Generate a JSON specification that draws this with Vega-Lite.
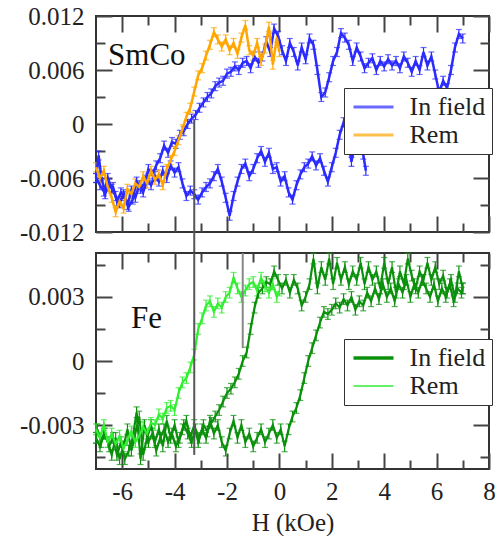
{
"$schema": "https://vega.github.io/schema/vega-lite/v6.json",
"padding": {"left": 18, "top": 3, "right": 0, "bottom": 0},
"background": "white",
"config": {
  "font": "Liberation Serif",
  "view": {"stroke": "#333", "strokeWidth": 2},
  "axis": {"domain": false, "grid": false, "labelFont": "Liberation Serif", "labelFontSize": 25, "labelColor": "#222", "tickColor": "#444", "tickWidth": 2, "titleFont": "Liberation Serif", "titleFontSize": 25, "titleFontWeight": "normal", "titleColor": "#222", "labelFlush": false, "labelOverlap": false},
  "legend": {"orient": "none", "symbolSize": 400, "symbolStrokeWidth": 3, "symbolOffset": 10.5, "labelFont": "Liberation Serif", "labelFontSize": 26, "labelColor": "#222", "labelOffset": 23, "strokeColor": "#333", "fillColor": "white", "padding": 6, "rowPadding": 2, "cornerRadius": 0}
},
"datasets": {
"smco": [
{"s":"In field","b":"d","x":7,"y":0.0095,"e":0.0005},{"s":"In field","b":"d","x":6.85,"y":0.0100,"e":0.0005},{"s":"In field","b":"d","x":6.7,"y":0.0085,"e":0.0005},{"s":"In field","b":"d","x":6.55,"y":0.0060,"e":0.0005},{"s":"In field","b":"d","x":6.4,"y":0.0040,"e":0.0005},{"s":"In field","b":"d","x":6.25,"y":0.0048,"e":0.0005},{"s":"In field","b":"d","x":6.1,"y":0.0035,"e":0.0005},{"s":"In field","b":"d","x":5.95,"y":0.0055,"e":0.0005},{"s":"In field","b":"d","x":5.8,"y":0.0075,"e":0.0005},{"s":"In field","b":"d","x":5.65,"y":0.0065,"e":0.0005},{"s":"In field","b":"d","x":5.5,"y":0.0080,"e":0.0005},{"s":"In field","b":"d","x":5.35,"y":0.0060,"e":0.0005},{"s":"In field","b":"d","x":5.2,"y":0.0070,"e":0.0005},{"s":"In field","b":"d","x":5.05,"y":0.0058,"e":0.0005},{"s":"In field","b":"d","x":4.9,"y":0.0068,"e":0.0005},{"s":"In field","b":"d","x":4.75,"y":0.0075,"e":0.0005},{"s":"In field","b":"d","x":4.6,"y":0.0062,"e":0.0005},{"s":"In field","b":"d","x":4.45,"y":0.0070,"e":0.0005},{"s":"In field","b":"d","x":4.3,"y":0.0065,"e":0.0005},{"s":"In field","b":"d","x":4.15,"y":0.0072,"e":0.0005},{"s":"In field","b":"d","x":4.0,"y":0.0064,"e":0.0005},{"s":"In field","b":"d","x":3.85,"y":0.0070,"e":0.0005},{"s":"In field","b":"d","x":3.7,"y":0.0060,"e":0.0005},{"s":"In field","b":"d","x":3.55,"y":0.0073,"e":0.0005},{"s":"In field","b":"d","x":3.4,"y":0.0068,"e":0.0005},{"s":"In field","b":"d","x":3.25,"y":0.0062,"e":0.0005},{"s":"In field","b":"d","x":3.1,"y":0.0075,"e":0.0005},{"s":"In field","b":"d","x":2.95,"y":0.0085,"e":0.0005},{"s":"In field","b":"d","x":2.8,"y":0.0070,"e":0.0005},{"s":"In field","b":"d","x":2.65,"y":0.0088,"e":0.0005},{"s":"In field","b":"d","x":2.5,"y":0.0096,"e":0.0005},{"s":"In field","b":"d","x":2.35,"y":0.0101,"e":0.0005},{"s":"In field","b":"d","x":2.2,"y":0.0080,"e":0.0005},{"s":"In field","b":"d","x":2.05,"y":0.0070,"e":0.0005},{"s":"In field","b":"d","x":1.9,"y":0.0052,"e":0.0005},{"s":"In field","b":"d","x":1.75,"y":0.0035,"e":0.0005},{"s":"In field","b":"d","x":1.6,"y":0.0030,"e":0.0005},{"s":"In field","b":"d","x":1.45,"y":0.0060,"e":0.0005},{"s":"In field","b":"d","x":1.3,"y":0.0088,"e":0.0005},{"s":"In field","b":"d","x":1.15,"y":0.0095,"e":0.0005},{"s":"In field","b":"d","x":1.0,"y":0.0072,"e":0.0005},{"s":"In field","b":"d","x":0.85,"y":0.0085,"e":0.0005},{"s":"In field","b":"d","x":0.7,"y":0.0065,"e":0.0005},{"s":"In field","b":"d","x":0.55,"y":0.0080,"e":0.0005},{"s":"In field","b":"d","x":0.4,"y":0.0090,"e":0.0005},{"s":"In field","b":"d","x":0.25,"y":0.0070,"e":0.0005},{"s":"In field","b":"d","x":0.1,"y":0.0082,"e":0.0005},{"s":"In field","b":"d","x":-0.05,"y":0.0098,"e":0.0005},{"s":"In field","b":"d","x":-0.2,"y":0.0106,"e":0.0005},{"s":"In field","b":"d","x":-0.35,"y":0.0080,"e":0.0005},{"s":"In field","b":"d","x":-0.5,"y":0.0092,"e":0.0005},{"s":"In field","b":"d","x":-0.65,"y":0.0075,"e":0.0005},{"s":"In field","b":"d","x":-0.8,"y":0.0068,"e":0.0005},{"s":"In field","b":"d","x":-0.95,"y":0.0075,"e":0.0005},{"s":"In field","b":"d","x":-1.1,"y":0.0062,"e":0.0005},{"s":"In field","b":"d","x":-1.25,"y":0.0070,"e":0.0005},{"s":"In field","b":"d","x":-1.4,"y":0.0068,"e":0.0005},{"s":"In field","b":"d","x":-1.55,"y":0.0060,"e":0.0005},{"s":"In field","b":"d","x":-1.7,"y":0.0064,"e":0.0005},{"s":"In field","b":"d","x":-1.85,"y":0.0058,"e":0.0005},{"s":"In field","b":"d","x":-2.0,"y":0.0056,"e":0.0005},{"s":"In field","b":"d","x":-2.15,"y":0.0048,"e":0.0005},{"s":"In field","b":"d","x":-2.3,"y":0.0046,"e":0.0005},{"s":"In field","b":"d","x":-2.45,"y":0.0042,"e":0.0005},{"s":"In field","b":"d","x":-2.6,"y":0.0034,"e":0.0005},{"s":"In field","b":"d","x":-2.75,"y":0.0030,"e":0.0005},{"s":"In field","b":"d","x":-2.9,"y":0.0024,"e":0.0005},{"s":"In field","b":"d","x":-3.05,"y":0.0018,"e":0.0005},{"s":"In field","b":"d","x":-3.2,"y":0.0010,"e":0.0005},{"s":"In field","b":"d","x":-3.35,"y":0.0006,"e":0.0005},{"s":"In field","b":"d","x":-3.5,"y":0.0000,"e":0.0005},{"s":"In field","b":"d","x":-3.65,"y":-0.0008,"e":0.0005},{"s":"In field","b":"d","x":-3.8,"y":-0.0012,"e":0.0005},{"s":"In field","b":"d","x":-3.95,"y":-0.0022,"e":0.0005},{"s":"In field","b":"d","x":-4.1,"y":-0.0020,"e":0.0005},{"s":"In field","b":"d","x":-4.25,"y":-0.0032,"e":0.0005},{"s":"In field","b":"d","x":-4.4,"y":-0.0024,"e":0.0005},{"s":"In field","b":"d","x":-4.55,"y":-0.0038,"e":0.0005},{"s":"In field","b":"d","x":-4.7,"y":-0.0046,"e":0.0005},{"s":"In field","b":"d","x":-4.85,"y":-0.0056,"e":0.0005},{"s":"In field","b":"d","x":-5.0,"y":-0.0050,"e":0.0005},{"s":"In field","b":"d","x":-5.15,"y":-0.0066,"e":0.0005},{"s":"In field","b":"d","x":-5.3,"y":-0.0072,"e":0.0005},{"s":"In field","b":"d","x":-5.45,"y":-0.0064,"e":0.0005},{"s":"In field","b":"d","x":-5.6,"y":-0.0084,"e":0.0005},{"s":"In field","b":"d","x":-5.75,"y":-0.0092,"e":0.0005},{"s":"In field","b":"d","x":-5.9,"y":-0.0080,"e":0.0005},{"s":"In field","b":"d","x":-6.05,"y":-0.0076,"e":0.0005},{"s":"In field","b":"d","x":-6.2,"y":-0.0086,"e":0.0005},{"s":"In field","b":"d","x":-6.35,"y":-0.0070,"e":0.0005},{"s":"In field","b":"d","x":-6.5,"y":-0.0066,"e":0.0005},{"s":"In field","b":"d","x":-6.65,"y":-0.0078,"e":0.0005},{"s":"In field","b":"d","x":-6.8,"y":-0.0058,"e":0.0005},{"s":"In field","b":"d","x":-6.9,"y":-0.0035,"e":0.0005},{"s":"In field","b":"d","x":-7.0,"y":-0.0060,"e":0.0005},
{"s":"In field","b":"a","x":-7.0,"y":-0.0060,"e":0.0005},{"s":"In field","b":"a","x":-6.85,"y":-0.0068,"e":0.0005},{"s":"In field","b":"a","x":-6.7,"y":-0.0075,"e":0.0005},{"s":"In field","b":"a","x":-6.55,"y":-0.0060,"e":0.0005},{"s":"In field","b":"a","x":-6.4,"y":-0.0072,"e":0.0005},{"s":"In field","b":"a","x":-6.25,"y":-0.0080,"e":0.0005},{"s":"In field","b":"a","x":-6.1,"y":-0.0088,"e":0.0005},{"s":"In field","b":"a","x":-5.95,"y":-0.0078,"e":0.0005},{"s":"In field","b":"a","x":-5.8,"y":-0.0090,"e":0.0005},{"s":"In field","b":"a","x":-5.65,"y":-0.0074,"e":0.0005},{"s":"In field","b":"a","x":-5.5,"y":-0.0082,"e":0.0005},{"s":"In field","b":"a","x":-5.35,"y":-0.0068,"e":0.0005},{"s":"In field","b":"a","x":-5.2,"y":-0.0076,"e":0.0005},{"s":"In field","b":"a","x":-5.05,"y":-0.0062,"e":0.0005},{"s":"In field","b":"a","x":-4.9,"y":-0.0068,"e":0.0005},{"s":"In field","b":"a","x":-4.75,"y":-0.0058,"e":0.0005},{"s":"In field","b":"a","x":-4.6,"y":-0.0064,"e":0.0005},{"s":"In field","b":"a","x":-4.45,"y":-0.0052,"e":0.0005},{"s":"In field","b":"a","x":-4.3,"y":-0.0060,"e":0.0005},{"s":"In field","b":"a","x":-4.15,"y":-0.0046,"e":0.0005},{"s":"In field","b":"a","x":-4.0,"y":-0.0054,"e":0.0005},{"s":"In field","b":"a","x":-3.85,"y":-0.0048,"e":0.0005},{"s":"In field","b":"a","x":-3.7,"y":-0.0066,"e":0.0005},{"s":"In field","b":"a","x":-3.55,"y":-0.0080,"e":0.0005},{"s":"In field","b":"a","x":-3.4,"y":-0.0074,"e":0.0005},{"s":"In field","b":"a","x":-3.25,"y":-0.0078,"e":0.0005},{"s":"In field","b":"a","x":-3.1,"y":-0.0084,"e":0.0005},{"s":"In field","b":"a","x":-2.95,"y":-0.0076,"e":0.0005},{"s":"In field","b":"a","x":-2.8,"y":-0.0070,"e":0.0005},{"s":"In field","b":"a","x":-2.65,"y":-0.0066,"e":0.0005},{"s":"In field","b":"a","x":-2.5,"y":-0.0058,"e":0.0005},{"s":"In field","b":"a","x":-2.35,"y":-0.0050,"e":0.0005},{"s":"In field","b":"a","x":-2.2,"y":-0.0064,"e":0.0005},{"s":"In field","b":"a","x":-2.05,"y":-0.0082,"e":0.0005},{"s":"In field","b":"a","x":-1.9,"y":-0.0102,"e":0.0005},{"s":"In field","b":"a","x":-1.75,"y":-0.0080,"e":0.0005},{"s":"In field","b":"a","x":-1.6,"y":-0.0064,"e":0.0005},{"s":"In field","b":"a","x":-1.45,"y":-0.0050,"e":0.0005},{"s":"In field","b":"a","x":-1.3,"y":-0.0044,"e":0.0005},{"s":"In field","b":"a","x":-1.15,"y":-0.0058,"e":0.0005},{"s":"In field","b":"a","x":-1.0,"y":-0.0050,"e":0.0005},{"s":"In field","b":"a","x":-0.85,"y":-0.0038,"e":0.0005},{"s":"In field","b":"a","x":-0.7,"y":-0.0030,"e":0.0005},{"s":"In field","b":"a","x":-0.55,"y":-0.0042,"e":0.0005},{"s":"In field","b":"a","x":-0.4,"y":-0.0032,"e":0.0005},{"s":"In field","b":"a","x":-0.25,"y":-0.0050,"e":0.0005},{"s":"In field","b":"a","x":-0.1,"y":-0.0048,"e":0.0005},{"s":"In field","b":"a","x":0.05,"y":-0.0064,"e":0.0005},{"s":"In field","b":"a","x":0.2,"y":-0.0058,"e":0.0005},{"s":"In field","b":"a","x":0.35,"y":-0.0076,"e":0.0005},{"s":"In field","b":"a","x":0.5,"y":-0.0084,"e":0.0005},{"s":"In field","b":"a","x":0.65,"y":-0.0068,"e":0.0005},{"s":"In field","b":"a","x":0.8,"y":-0.0056,"e":0.0005},{"s":"In field","b":"a","x":0.95,"y":-0.0048,"e":0.0005},{"s":"In field","b":"a","x":1.1,"y":-0.0044,"e":0.0005},{"s":"In field","b":"a","x":1.25,"y":-0.0036,"e":0.0005},{"s":"In field","b":"a","x":1.4,"y":-0.0046,"e":0.0005},{"s":"In field","b":"a","x":1.55,"y":-0.0038,"e":0.0005},{"s":"In field","b":"a","x":1.7,"y":-0.0052,"e":0.0005},{"s":"In field","b":"a","x":1.85,"y":-0.0064,"e":0.0005},{"s":"In field","b":"a","x":2.0,"y":-0.0048,"e":0.0005},{"s":"In field","b":"a","x":2.15,"y":-0.0032,"e":0.0005},{"s":"In field","b":"a","x":2.3,"y":-0.0012,"e":0.0005},{"s":"In field","b":"a","x":2.45,"y":0.0002,"e":0.0005},{"s":"In field","b":"a","x":2.6,"y":-0.0014,"e":0.0005},{"s":"In field","b":"a","x":2.75,"y":-0.0042,"e":0.0005},{"s":"In field","b":"a","x":2.9,"y":-0.0020,"e":0.0005},{"s":"In field","b":"a","x":3.05,"y":-0.0028,"e":0.0005},{"s":"In field","b":"a","x":3.2,"y":-0.0034,"e":0.0005},{"s":"In field","b":"a","x":3.3,"y":-0.0052,"e":0.0005},
{"s":"Rem","b":"r","x":-7.0,"y":-0.0048,"e":0.0005},{"s":"Rem","b":"r","x":-6.85,"y":-0.0060,"e":0.0005},{"s":"Rem","b":"r","x":-6.7,"y":-0.0052,"e":0.0005},{"s":"Rem","b":"r","x":-6.55,"y":-0.0070,"e":0.0005},{"s":"Rem","b":"r","x":-6.4,"y":-0.0082,"e":0.0005},{"s":"Rem","b":"r","x":-6.25,"y":-0.0098,"e":0.0005},{"s":"Rem","b":"r","x":-6.1,"y":-0.0086,"e":0.0005},{"s":"Rem","b":"r","x":-5.95,"y":-0.0094,"e":0.0005},{"s":"Rem","b":"r","x":-5.8,"y":-0.0072,"e":0.0005},{"s":"Rem","b":"r","x":-5.65,"y":-0.0078,"e":0.0005},{"s":"Rem","b":"r","x":-5.5,"y":-0.0066,"e":0.0005},{"s":"Rem","b":"r","x":-5.35,"y":-0.0070,"e":0.0005},{"s":"Rem","b":"r","x":-5.2,"y":-0.0058,"e":0.0005},{"s":"Rem","b":"r","x":-5.05,"y":-0.0066,"e":0.0005},{"s":"Rem","b":"r","x":-4.9,"y":-0.0052,"e":0.0005},{"s":"Rem","b":"r","x":-4.75,"y":-0.0062,"e":0.0005},{"s":"Rem","b":"r","x":-4.6,"y":-0.0056,"e":0.0005},{"s":"Rem","b":"r","x":-4.45,"y":-0.0068,"e":0.0005},{"s":"Rem","b":"r","x":-4.3,"y":-0.0050,"e":0.0005},{"s":"Rem","b":"r","x":-4.15,"y":-0.0040,"e":0.0005},{"s":"Rem","b":"r","x":-4.0,"y":-0.0030,"e":0.0005},{"s":"Rem","b":"r","x":-3.85,"y":-0.0018,"e":0.0005},{"s":"Rem","b":"r","x":-3.7,"y":-0.0006,"e":0.0005},{"s":"Rem","b":"r","x":-3.55,"y":0.0008,"e":0.0005},{"s":"Rem","b":"r","x":-3.4,"y":0.0018,"e":0.0005},{"s":"Rem","b":"r","x":-3.25,"y":0.0036,"e":0.0005},{"s":"Rem","b":"r","x":-3.1,"y":0.0054,"e":0.0005},{"s":"Rem","b":"r","x":-2.95,"y":0.0062,"e":0.0005},{"s":"Rem","b":"r","x":-2.8,"y":0.0076,"e":0.0005},{"s":"Rem","b":"r","x":-2.65,"y":0.0088,"e":0.0005},{"s":"Rem","b":"r","x":-2.5,"y":0.0102,"e":0.0005},{"s":"Rem","b":"r","x":-2.35,"y":0.0094,"e":0.0005},{"s":"Rem","b":"r","x":-2.2,"y":0.0086,"e":0.0005},{"s":"Rem","b":"r","x":-2.05,"y":0.0094,"e":0.0005},{"s":"Rem","b":"r","x":-1.9,"y":0.0082,"e":0.0005},{"s":"Rem","b":"r","x":-1.75,"y":0.0090,"e":0.0005},{"s":"Rem","b":"r","x":-1.6,"y":0.0078,"e":0.0005},{"s":"Rem","b":"r","x":-1.45,"y":0.0096,"e":0.0005},{"s":"Rem","b":"r","x":-1.3,"y":0.0110,"e":0.0005},{"s":"Rem","b":"r","x":-1.15,"y":0.0082,"e":0.0005},{"s":"Rem","b":"r","x":-1.0,"y":0.0076,"e":0.0005},{"s":"Rem","b":"r","x":-0.85,"y":0.0090,"e":0.0005},{"s":"Rem","b":"r","x":-0.7,"y":0.0070,"e":0.0005},{"s":"Rem","b":"r","x":-0.55,"y":0.0084,"e":0.0005},{"s":"Rem","b":"r","x":-0.4,"y":0.0108,"e":0.0005},{"s":"Rem","b":"r","x":-0.25,"y":0.0066,"e":0.0005},{"s":"Rem","b":"r","x":-0.1,"y":0.0096,"e":0.0005},{"s":"Rem","b":"r","x":0.0,"y":0.0080,"e":0.0005}
],
"fe": [
{"s":"In field","b":"d","x":7,"y":0.0034,"e":0.00025},{"s":"In field","b":"d","x":6.85,"y":0.0042,"e":0.00025},{"s":"In field","b":"d","x":6.7,"y":0.0030,"e":0.00025},{"s":"In field","b":"d","x":6.55,"y":0.0038,"e":0.00025},{"s":"In field","b":"d","x":6.4,"y":0.0032,"e":0.00025},{"s":"In field","b":"d","x":6.25,"y":0.0040,"e":0.00025},{"s":"In field","b":"d","x":6.1,"y":0.0036,"e":0.00025},{"s":"In field","b":"d","x":5.95,"y":0.0044,"e":0.00025},{"s":"In field","b":"d","x":5.8,"y":0.0038,"e":0.00025},{"s":"In field","b":"d","x":5.65,"y":0.0046,"e":0.00025},{"s":"In field","b":"d","x":5.5,"y":0.0038,"e":0.00025},{"s":"In field","b":"d","x":5.35,"y":0.0042,"e":0.00025},{"s":"In field","b":"d","x":5.2,"y":0.0034,"e":0.00025},{"s":"In field","b":"d","x":5.05,"y":0.0040,"e":0.00025},{"s":"In field","b":"d","x":4.9,"y":0.0048,"e":0.00025},{"s":"In field","b":"d","x":4.75,"y":0.0036,"e":0.00025},{"s":"In field","b":"d","x":4.6,"y":0.0042,"e":0.00025},{"s":"In field","b":"d","x":4.45,"y":0.0032,"e":0.00025},{"s":"In field","b":"d","x":4.3,"y":0.0044,"e":0.00025},{"s":"In field","b":"d","x":4.15,"y":0.0036,"e":0.00025},{"s":"In field","b":"d","x":4.0,"y":0.0046,"e":0.00025},{"s":"In field","b":"d","x":3.85,"y":0.0034,"e":0.00025},{"s":"In field","b":"d","x":3.7,"y":0.0042,"e":0.00025},{"s":"In field","b":"d","x":3.55,"y":0.0038,"e":0.00025},{"s":"In field","b":"d","x":3.4,"y":0.0044,"e":0.00025},{"s":"In field","b":"d","x":3.25,"y":0.0036,"e":0.00025},{"s":"In field","b":"d","x":3.1,"y":0.0046,"e":0.00025},{"s":"In field","b":"d","x":2.95,"y":0.0038,"e":0.00025},{"s":"In field","b":"d","x":2.8,"y":0.0042,"e":0.00025},{"s":"In field","b":"d","x":2.65,"y":0.0036,"e":0.00025},{"s":"In field","b":"d","x":2.5,"y":0.0044,"e":0.00025},{"s":"In field","b":"d","x":2.35,"y":0.0038,"e":0.00025},{"s":"In field","b":"d","x":2.2,"y":0.0046,"e":0.00025},{"s":"In field","b":"d","x":2.05,"y":0.0036,"e":0.00025},{"s":"In field","b":"d","x":1.9,"y":0.0048,"e":0.00025},{"s":"In field","b":"d","x":1.75,"y":0.0038,"e":0.00025},{"s":"In field","b":"d","x":1.6,"y":0.0044,"e":0.00025},{"s":"In field","b":"d","x":1.45,"y":0.0034,"e":0.00025},{"s":"In field","b":"d","x":1.3,"y":0.0048,"e":0.00025},{"s":"In field","b":"d","x":1.15,"y":0.0036,"e":0.00025},{"s":"In field","b":"d","x":1.0,"y":0.0030,"e":0.00025},{"s":"In field","b":"d","x":0.85,"y":0.0026,"e":0.00025},{"s":"In field","b":"d","x":0.7,"y":0.0034,"e":0.00025},{"s":"In field","b":"d","x":0.55,"y":0.0038,"e":0.00025},{"s":"In field","b":"d","x":0.4,"y":0.0032,"e":0.00025},{"s":"In field","b":"d","x":0.25,"y":0.0038,"e":0.00025},{"s":"In field","b":"d","x":0.1,"y":0.0034,"e":0.00025},{"s":"In field","b":"d","x":-0.05,"y":0.0038,"e":0.00025},{"s":"In field","b":"d","x":-0.2,"y":0.0042,"e":0.00025},{"s":"In field","b":"d","x":-0.35,"y":0.0036,"e":0.00025},{"s":"In field","b":"d","x":-0.5,"y":0.0037,"e":0.00025},{"s":"In field","b":"d","x":-0.65,"y":0.0034,"e":0.00025},{"s":"In field","b":"d","x":-0.8,"y":0.0032,"e":0.00025},{"s":"In field","b":"d","x":-0.95,"y":0.0025,"e":0.00025},{"s":"In field","b":"d","x":-1.1,"y":0.0015,"e":0.00025},{"s":"In field","b":"d","x":-1.25,"y":0.0004,"e":0.00025},{"s":"In field","b":"d","x":-1.4,"y":0.0000,"e":0.00025},{"s":"In field","b":"d","x":-1.55,"y":-0.0006,"e":0.00025},{"s":"In field","b":"d","x":-1.7,"y":-0.0010,"e":0.00025},{"s":"In field","b":"d","x":-1.85,"y":-0.0013,"e":0.00025},{"s":"In field","b":"d","x":-2.0,"y":-0.0015,"e":0.00025},{"s":"In field","b":"d","x":-2.15,"y":-0.0019,"e":0.00025},{"s":"In field","b":"d","x":-2.3,"y":-0.0023,"e":0.00025},{"s":"In field","b":"d","x":-2.45,"y":-0.0026,"e":0.00025},{"s":"In field","b":"d","x":-2.6,"y":-0.0029,"e":0.00025},{"s":"In field","b":"d","x":-2.75,"y":-0.0033,"e":0.00025},{"s":"In field","b":"d","x":-2.9,"y":-0.0030,"e":0.00025},{"s":"In field","b":"d","x":-3.05,"y":-0.0036,"e":0.00025},{"s":"In field","b":"d","x":-3.2,"y":-0.0032,"e":0.00025},{"s":"In field","b":"d","x":-3.35,"y":-0.0038,"e":0.00025},{"s":"In field","b":"d","x":-3.5,"y":-0.0034,"e":0.00025},{"s":"In field","b":"d","x":-3.65,"y":-0.0030,"e":0.00025},{"s":"In field","b":"d","x":-3.8,"y":-0.0036,"e":0.00025},{"s":"In field","b":"d","x":-3.95,"y":-0.0040,"e":0.00025},{"s":"In field","b":"d","x":-4.1,"y":-0.0034,"e":0.00025},{"s":"In field","b":"d","x":-4.25,"y":-0.0038,"e":0.00025},{"s":"In field","b":"d","x":-4.4,"y":-0.0032,"e":0.00025},{"s":"In field","b":"d","x":-4.55,"y":-0.0036,"e":0.00025},{"s":"In field","b":"d","x":-4.7,"y":-0.0042,"e":0.00025},{"s":"In field","b":"d","x":-4.85,"y":-0.0034,"e":0.00025},{"s":"In field","b":"d","x":-5.0,"y":-0.0038,"e":0.00025},{"s":"In field","b":"d","x":-5.15,"y":-0.0030,"e":0.00025},{"s":"In field","b":"d","x":-5.3,"y":-0.0046,"e":0.00025},{"s":"In field","b":"d","x":-5.45,"y":-0.0024,"e":0.00025},{"s":"In field","b":"d","x":-5.6,"y":-0.0036,"e":0.00025},{"s":"In field","b":"d","x":-5.75,"y":-0.0042,"e":0.00025},{"s":"In field","b":"d","x":-5.9,"y":-0.0046,"e":0.00025},{"s":"In field","b":"d","x":-6.05,"y":-0.0038,"e":0.00025},{"s":"In field","b":"d","x":-6.2,"y":-0.0044,"e":0.00025},{"s":"In field","b":"d","x":-6.35,"y":-0.0036,"e":0.00025},{"s":"In field","b":"d","x":-6.5,"y":-0.0040,"e":0.00025},{"s":"In field","b":"d","x":-6.65,"y":-0.0034,"e":0.00025},{"s":"In field","b":"d","x":-6.8,"y":-0.0038,"e":0.00025},{"s":"In field","b":"d","x":-6.95,"y":-0.0032,"e":0.00025},{"s":"In field","b":"d","x":-7.0,"y":-0.0036,"e":0.00025},
{"s":"In field","b":"a","x":-7.0,"y":-0.0036,"e":0.00025},{"s":"In field","b":"a","x":-6.85,"y":-0.0040,"e":0.00025},{"s":"In field","b":"a","x":-6.7,"y":-0.0034,"e":0.00025},{"s":"In field","b":"a","x":-6.55,"y":-0.0038,"e":0.00025},{"s":"In field","b":"a","x":-6.4,"y":-0.0044,"e":0.00025},{"s":"In field","b":"a","x":-6.25,"y":-0.0036,"e":0.00025},{"s":"In field","b":"a","x":-6.1,"y":-0.0046,"e":0.00025},{"s":"In field","b":"a","x":-5.95,"y":-0.0040,"e":0.00025},{"s":"In field","b":"a","x":-5.8,"y":-0.0032,"e":0.00025},{"s":"In field","b":"a","x":-5.65,"y":-0.0042,"e":0.00025},{"s":"In field","b":"a","x":-5.5,"y":-0.0034,"e":0.00025},{"s":"In field","b":"a","x":-5.35,"y":-0.0026,"e":0.00025},{"s":"In field","b":"a","x":-5.2,"y":-0.0044,"e":0.00025},{"s":"In field","b":"a","x":-5.05,"y":-0.0036,"e":0.00025},{"s":"In field","b":"a","x":-4.9,"y":-0.0030,"e":0.00025},{"s":"In field","b":"a","x":-4.75,"y":-0.0038,"e":0.00025},{"s":"In field","b":"a","x":-4.6,"y":-0.0032,"e":0.00025},{"s":"In field","b":"a","x":-4.45,"y":-0.0040,"e":0.00025},{"s":"In field","b":"a","x":-4.3,"y":-0.0028,"e":0.00025},{"s":"In field","b":"a","x":-4.15,"y":-0.0036,"e":0.00025},{"s":"In field","b":"a","x":-4.0,"y":-0.0030,"e":0.00025},{"s":"In field","b":"a","x":-3.85,"y":-0.0038,"e":0.00025},{"s":"In field","b":"a","x":-3.7,"y":-0.0032,"e":0.00025},{"s":"In field","b":"a","x":-3.55,"y":-0.0028,"e":0.00025},{"s":"In field","b":"a","x":-3.4,"y":-0.0036,"e":0.00025},{"s":"In field","b":"a","x":-3.25,"y":-0.0030,"e":0.00025},{"s":"In field","b":"a","x":-3.1,"y":-0.0038,"e":0.00025},{"s":"In field","b":"a","x":-2.95,"y":-0.0032,"e":0.00025},{"s":"In field","b":"a","x":-2.8,"y":-0.0036,"e":0.00025},{"s":"In field","b":"a","x":-2.65,"y":-0.0028,"e":0.00025},{"s":"In field","b":"a","x":-2.5,"y":-0.0034,"e":0.00025},{"s":"In field","b":"a","x":-2.35,"y":-0.0030,"e":0.00025},{"s":"In field","b":"a","x":-2.2,"y":-0.0038,"e":0.00025},{"s":"In field","b":"a","x":-2.05,"y":-0.0042,"e":0.00025},{"s":"In field","b":"a","x":-1.9,"y":-0.0034,"e":0.00025},{"s":"In field","b":"a","x":-1.75,"y":-0.0028,"e":0.00025},{"s":"In field","b":"a","x":-1.6,"y":-0.0036,"e":0.00025},{"s":"In field","b":"a","x":-1.45,"y":-0.0030,"e":0.00025},{"s":"In field","b":"a","x":-1.3,"y":-0.0038,"e":0.00025},{"s":"In field","b":"a","x":-1.15,"y":-0.0034,"e":0.00025},{"s":"In field","b":"a","x":-1.0,"y":-0.0040,"e":0.00025},{"s":"In field","b":"a","x":-0.85,"y":-0.0036,"e":0.00025},{"s":"In field","b":"a","x":-0.7,"y":-0.0032,"e":0.00025},{"s":"In field","b":"a","x":-0.55,"y":-0.0038,"e":0.00025},{"s":"In field","b":"a","x":-0.4,"y":-0.0034,"e":0.00025},{"s":"In field","b":"a","x":-0.25,"y":-0.0030,"e":0.00025},{"s":"In field","b":"a","x":-0.1,"y":-0.0036,"e":0.00025},{"s":"In field","b":"a","x":0.05,"y":-0.0032,"e":0.00025},{"s":"In field","b":"a","x":0.2,"y":-0.0040,"e":0.00025},{"s":"In field","b":"a","x":0.35,"y":-0.0032,"e":0.00025},{"s":"In field","b":"a","x":0.5,"y":-0.0026,"e":0.00025},{"s":"In field","b":"a","x":0.65,"y":-0.0022,"e":0.00025},{"s":"In field","b":"a","x":0.8,"y":-0.0016,"e":0.00025},{"s":"In field","b":"a","x":0.95,"y":-0.0008,"e":0.00025},{"s":"In field","b":"a","x":1.1,"y":0.0000,"e":0.00025},{"s":"In field","b":"a","x":1.25,"y":0.0006,"e":0.00025},{"s":"In field","b":"a","x":1.4,"y":0.0012,"e":0.00025},{"s":"In field","b":"a","x":1.55,"y":0.0018,"e":0.00025},{"s":"In field","b":"a","x":1.7,"y":0.0023,"e":0.00025},{"s":"In field","b":"a","x":1.85,"y":0.0022,"e":0.00025},{"s":"In field","b":"a","x":2.0,"y":0.0024,"e":0.00025},{"s":"In field","b":"a","x":2.15,"y":0.0027,"e":0.00025},{"s":"In field","b":"a","x":2.3,"y":0.0025,"e":0.00025},{"s":"In field","b":"a","x":2.45,"y":0.0029,"e":0.00025},{"s":"In field","b":"a","x":2.6,"y":0.0026,"e":0.00025},{"s":"In field","b":"a","x":2.75,"y":0.0030,"e":0.00025},{"s":"In field","b":"a","x":2.9,"y":0.0024,"e":0.00025},{"s":"In field","b":"a","x":3.05,"y":0.0028,"e":0.00025},{"s":"In field","b":"a","x":3.2,"y":0.0026,"e":0.00025},{"s":"In field","b":"a","x":3.35,"y":0.0032,"e":0.00025},{"s":"In field","b":"a","x":3.5,"y":0.0028,"e":0.00025},{"s":"In field","b":"a","x":3.65,"y":0.0034,"e":0.00025},{"s":"In field","b":"a","x":3.8,"y":0.0029,"e":0.00025},{"s":"In field","b":"a","x":3.95,"y":0.0036,"e":0.00025},{"s":"In field","b":"a","x":4.1,"y":0.0030,"e":0.00025},{"s":"In field","b":"a","x":4.25,"y":0.0034,"e":0.00025},{"s":"In field","b":"a","x":4.4,"y":0.0028,"e":0.00025},{"s":"In field","b":"a","x":4.55,"y":0.0036,"e":0.00025},{"s":"In field","b":"a","x":4.7,"y":0.0032,"e":0.00025},{"s":"In field","b":"a","x":4.85,"y":0.0038,"e":0.00025},{"s":"In field","b":"a","x":5.0,"y":0.0030,"e":0.00025},{"s":"In field","b":"a","x":5.15,"y":0.0036,"e":0.00025},{"s":"In field","b":"a","x":5.3,"y":0.0032,"e":0.00025},{"s":"In field","b":"a","x":5.45,"y":0.0038,"e":0.00025},{"s":"In field","b":"a","x":5.6,"y":0.0034,"e":0.00025},{"s":"In field","b":"a","x":5.75,"y":0.0030,"e":0.00025},{"s":"In field","b":"a","x":5.9,"y":0.0036,"e":0.00025},{"s":"In field","b":"a","x":6.05,"y":0.0028,"e":0.00025},{"s":"In field","b":"a","x":6.2,"y":0.0034,"e":0.00025},{"s":"In field","b":"a","x":6.35,"y":0.0030,"e":0.00025},{"s":"In field","b":"a","x":6.5,"y":0.0036,"e":0.00025},{"s":"In field","b":"a","x":6.65,"y":0.0028,"e":0.00025},{"s":"In field","b":"a","x":6.8,"y":0.0034,"e":0.00025},{"s":"In field","b":"a","x":6.95,"y":0.0032,"e":0.00025},{"s":"In field","b":"a","x":7.0,"y":0.0034,"e":0.00025},
{"s":"Rem","b":"r","x":-7.0,"y":-0.0032,"e":0.00025},{"s":"Rem","b":"r","x":-6.85,"y":-0.0036,"e":0.00025},{"s":"Rem","b":"r","x":-6.7,"y":-0.0030,"e":0.00025},{"s":"Rem","b":"r","x":-6.55,"y":-0.0038,"e":0.00025},{"s":"Rem","b":"r","x":-6.4,"y":-0.0034,"e":0.00025},{"s":"Rem","b":"r","x":-6.25,"y":-0.0039,"e":0.00025},{"s":"Rem","b":"r","x":-6.1,"y":-0.0035,"e":0.00025},{"s":"Rem","b":"r","x":-5.95,"y":-0.0041,"e":0.00025},{"s":"Rem","b":"r","x":-5.8,"y":-0.0037,"e":0.00025},{"s":"Rem","b":"r","x":-5.65,"y":-0.0033,"e":0.00025},{"s":"Rem","b":"r","x":-5.5,"y":-0.0038,"e":0.00025},{"s":"Rem","b":"r","x":-5.35,"y":-0.0035,"e":0.00025},{"s":"Rem","b":"r","x":-5.2,"y":-0.0031,"e":0.00025},{"s":"Rem","b":"r","x":-5.05,"y":-0.0034,"e":0.00025},{"s":"Rem","b":"r","x":-4.9,"y":-0.0029,"e":0.00025},{"s":"Rem","b":"r","x":-4.75,"y":-0.0030,"e":0.00025},{"s":"Rem","b":"r","x":-4.6,"y":-0.0025,"e":0.00025},{"s":"Rem","b":"r","x":-4.45,"y":-0.0027,"e":0.00025},{"s":"Rem","b":"r","x":-4.3,"y":-0.0022,"e":0.00025},{"s":"Rem","b":"r","x":-4.15,"y":-0.0021,"e":0.00025},{"s":"Rem","b":"r","x":-4.0,"y":-0.0023,"e":0.00025},{"s":"Rem","b":"r","x":-3.85,"y":-0.0015,"e":0.00025},{"s":"Rem","b":"r","x":-3.7,"y":-0.0010,"e":0.00025},{"s":"Rem","b":"r","x":-3.55,"y":-0.0008,"e":0.00025},{"s":"Rem","b":"r","x":-3.4,"y":-0.0003,"e":0.00025},{"s":"Rem","b":"r","x":-3.25,"y":0.0003,"e":0.00025},{"s":"Rem","b":"r","x":-3.1,"y":0.0015,"e":0.00025},{"s":"Rem","b":"r","x":-2.95,"y":0.0020,"e":0.00025},{"s":"Rem","b":"r","x":-2.8,"y":0.0026,"e":0.00025},{"s":"Rem","b":"r","x":-2.65,"y":0.0028,"e":0.00025},{"s":"Rem","b":"r","x":-2.5,"y":0.0023,"e":0.00025},{"s":"Rem","b":"r","x":-2.35,"y":0.0027,"e":0.00025},{"s":"Rem","b":"r","x":-2.2,"y":0.0025,"e":0.00025},{"s":"Rem","b":"r","x":-2.05,"y":0.0030,"e":0.00025},{"s":"Rem","b":"r","x":-1.9,"y":0.0032,"e":0.00025},{"s":"Rem","b":"r","x":-1.75,"y":0.0039,"e":0.00025},{"s":"Rem","b":"r","x":-1.6,"y":0.0034,"e":0.00025},{"s":"Rem","b":"r","x":-1.45,"y":0.0030,"e":0.00025},{"s":"Rem","b":"r","x":-1.3,"y":0.0033,"e":0.00025},{"s":"Rem","b":"r","x":-1.15,"y":0.0036,"e":0.00025},{"s":"Rem","b":"r","x":-1.0,"y":0.0037,"e":0.00025},{"s":"Rem","b":"r","x":-0.85,"y":0.0033,"e":0.00025},{"s":"Rem","b":"r","x":-0.7,"y":0.0039,"e":0.00025},{"s":"Rem","b":"r","x":-0.55,"y":0.0035,"e":0.00025},{"s":"Rem","b":"r","x":-0.4,"y":0.0032,"e":0.00025},{"s":"Rem","b":"r","x":-0.25,"y":0.0036,"e":0.00025},{"s":"Rem","b":"r","x":-0.1,"y":0.0030,"e":0.00025},{"s":"Rem","b":"r","x":0.0,"y":0.0033,"e":0.00025}
],
"pt": [{"x": 0, "y": 0}]
},
"spacing": 21,
"bounds": "flush",
"resolve": {"scale": {"color": "independent"}, "legend": {"color": "independent"}},
"vconcat": [
{
 "width": 393, "height": 216,
 "resolve": {"axis": {"x": "independent", "y": "independent"}},
 "layer": [
  {"data": {"name": "smco"}, "mark": {"type": "errorbar", "ticks": true, "size": 6, "thickness": 1.2},
   "encoding": {"x": {"field": "x", "type": "quantitative", "scale": {"domain": [-7, 8], "nice": false, "zero": false}, "axis": null},
    "y": {"field": "y", "type": "quantitative", "scale": {"domain": [-0.012, 0.012], "nice": false, "zero": false}, "axis": null},
    "yError": {"field": "e"},
    "color": {"field": "s", "type": "nominal", "scale": {"domain": ["In field", "Rem"], "range": ["#2b2bff", "#ffa600"]}}}},
  {"data": {"name": "smco"}, "mark": {"type": "line", "strokeWidth": 2.5},
   "encoding": {"x": {"field": "x", "type": "quantitative", "scale": {"domain": [-7, 8], "nice": false, "zero": false}, "axis": null},
    "y": {"field": "y", "type": "quantitative", "scale": {"domain": [-0.012, 0.012], "nice": false, "zero": false}, "axis": null},
    "detail": {"field": "b"},
    "color": {"field": "s", "type": "nominal", "scale": {"domain": ["In field", "Rem"], "range": ["#2b2bff", "#ffa600"]}, "legend": {"title": null, "orient": "none", "legendX": 248, "legendY": 72, "symbolType": "M-2,0H2"}}}},
  {"data": {"values": [{"x": -3.25, "y": 0.0005, "y2": -0.01433}]}, "mark": {"type": "rule", "color": "#555", "strokeWidth": 2},
   "encoding": {"x": {"field": "x", "type": "quantitative", "axis": null}, "y": {"field": "y", "type": "quantitative", "axis": null}, "y2": {"field": "y2"}}},
  {"data": {"values": [{"x": -6.54, "y": 0.00656, "t": "SmCo"}]}, "mark": {"type": "text", "align": "left", "baseline": "alphabetic", "font": "Liberation Serif", "fontSize": 31, "color": "#111"},
   "encoding": {"x": {"field": "x", "type": "quantitative", "axis": null}, "y": {"field": "y", "type": "quantitative", "axis": null}, "text": {"field": "t"}}},
  {"data": {"name": "pt"}, "mark": {"type": "point", "opacity": 0},
   "encoding": {"x": {"field": "x", "type": "quantitative", "axis": {"orient": "bottom", "values": [-6, -4, -2, 0, 2, 4, 6, 8], "tickSize": -16, "labels": false, "title": null}},
    "y": {"field": "y", "type": "quantitative", "axis": {"orient": "left", "values": [-0.012, -0.006, 0, 0.006, 0.012], "tickSize": -16, "labelPadding": 28, "labelExpr": "datum.value == 0 ? '0' : (datum.value < 0 ? '-' : '') + format(abs(datum.value), '.3f')", "title": null}}}},
  {"data": {"name": "pt"}, "mark": {"type": "point", "opacity": 0},
   "encoding": {"x": {"field": "x", "type": "quantitative", "axis": {"orient": "bottom", "values": [-5, -3, -1, 1, 3, 5, 7], "tickSize": -9, "labels": false, "title": null}},
    "y": {"field": "y", "type": "quantitative", "axis": {"orient": "left", "values": [-0.009, -0.003, 0.003, 0.009], "tickSize": -9, "labels": false, "title": null}}}},
  {"data": {"name": "pt"}, "mark": {"type": "point", "opacity": 0},
   "encoding": {"x": {"field": "x", "type": "quantitative", "axis": {"orient": "top", "values": [-6, -4, -2, 0, 2, 4, 6, 8], "tickSize": -16, "labels": false, "title": null}},
    "y": {"field": "y", "type": "quantitative", "axis": {"orient": "right", "values": [-0.012, -0.006, 0, 0.006, 0.012], "tickSize": -16, "labels": false, "title": null}}}},
  {"data": {"name": "pt"}, "mark": {"type": "point", "opacity": 0},
   "encoding": {"x": {"field": "x", "type": "quantitative", "axis": {"orient": "top", "values": [-5, -3, -1, 1, 3, 5, 7], "tickSize": -9, "labels": false, "title": null}},
    "y": {"field": "y", "type": "quantitative", "axis": {"orient": "right", "values": [-0.009, -0.003, 0.003, 0.009], "tickSize": -9, "labels": false, "title": null}}}}
 ]
},
{
 "width": 393, "height": 216,
 "resolve": {"axis": {"x": "independent", "y": "independent"}},
 "layer": [
  {"data": {"name": "fe"}, "mark": {"type": "errorbar", "ticks": true, "size": 6, "thickness": 1.2},
   "encoding": {"x": {"field": "x", "type": "quantitative", "scale": {"domain": [-7, 8], "nice": false, "zero": false}, "axis": null},
    "y": {"field": "y", "type": "quantitative", "scale": {"domain": [-0.00506, 0.00506], "nice": false, "zero": false}, "axis": null},
    "yError": {"field": "e"},
    "color": {"field": "s", "type": "nominal", "scale": {"domain": ["In field", "Rem"], "range": ["#0b900b", "#33ee33"]}}}},
  {"data": {"name": "fe"}, "mark": {"type": "line", "strokeWidth": 2.2},
   "encoding": {"x": {"field": "x", "type": "quantitative", "scale": {"domain": [-7, 8], "nice": false, "zero": false}, "axis": null},
    "y": {"field": "y", "type": "quantitative", "scale": {"domain": [-0.00506, 0.00506], "nice": false, "zero": false}, "axis": null},
    "detail": {"field": "b"},
    "color": {"field": "s", "type": "nominal", "scale": {"domain": ["In field", "Rem"], "range": ["#0b900b", "#33ee33"]}, "legend": {"title": null, "orient": "none", "legendX": 248, "legendY": 86, "symbolType": "M-2,0H2", "encode": {"symbols": {"update": {"strokeWidth": {"signal": "datum.label === 'Rem' ? 1.5 : 3.5"}}}}}}}},
  {"data": {"values": [{"x": -3.25, "y": 0.00506, "y2": -0.0044}]}, "mark": {"type": "rule", "color": "#555", "strokeWidth": 2},
   "encoding": {"x": {"field": "x", "type": "quantitative", "axis": null}, "y": {"field": "y", "type": "quantitative", "axis": null}, "y2": {"field": "y2"}}},
  {"data": {"values": [{"x": -1.4, "y": 0.00506, "y2": 0.0006}]}, "mark": {"type": "rule", "color": "#888", "strokeWidth": 2},
   "encoding": {"x": {"field": "x", "type": "quantitative", "axis": null}, "y": {"field": "y", "type": "quantitative", "axis": null}, "y2": {"field": "y2"}}},
  {"data": {"values": [{"x": -5.66, "y": 0.00155, "t": "Fe"}]}, "mark": {"type": "text", "align": "left", "baseline": "alphabetic", "font": "Liberation Serif", "fontSize": 31, "color": "#111"},
   "encoding": {"x": {"field": "x", "type": "quantitative", "axis": null}, "y": {"field": "y", "type": "quantitative", "axis": null}, "text": {"field": "t"}}},
  {"data": {"name": "pt"}, "mark": {"type": "point", "opacity": 0},
   "encoding": {"x": {"field": "x", "type": "quantitative", "axis": {"orient": "bottom", "values": [-6, -4, -2, 0, 2, 4, 6, 8], "tickSize": -16, "labelPadding": 26, "labelExpr": "(datum.value < 0 ? '-' : '') + abs(datum.value)", "title": "H (kOe)", "titlePadding": 6}},
    "y": {"field": "y", "type": "quantitative", "axis": {"orient": "left", "values": [-0.003, 0, 0.003], "tickSize": -16, "labelPadding": 28, "labelExpr": "datum.value == 0 ? '0' : (datum.value < 0 ? '-' : '') + format(abs(datum.value), '.3f')", "title": null}}}},
  {"data": {"name": "pt"}, "mark": {"type": "point", "opacity": 0},
   "encoding": {"x": {"field": "x", "type": "quantitative", "axis": {"orient": "bottom", "values": [-5, -3, -1, 1, 3, 5, 7], "tickSize": -9, "labels": false, "title": null}},
    "y": {"field": "y", "type": "quantitative", "axis": {"orient": "left", "values": [-0.0045, -0.0015, 0.0015, 0.0045], "tickSize": -9, "labels": false, "title": null}}}},
  {"data": {"name": "pt"}, "mark": {"type": "point", "opacity": 0},
   "encoding": {"x": {"field": "x", "type": "quantitative", "axis": {"orient": "top", "values": [-6, -4, -2, 0, 2, 4, 6, 8], "tickSize": -16, "labels": false, "title": null}},
    "y": {"field": "y", "type": "quantitative", "axis": {"orient": "right", "values": [-0.003, 0, 0.003], "tickSize": -16, "labels": false, "title": null}}}},
  {"data": {"name": "pt"}, "mark": {"type": "point", "opacity": 0},
   "encoding": {"x": {"field": "x", "type": "quantitative", "axis": {"orient": "top", "values": [-5, -3, -1, 1, 3, 5, 7], "tickSize": -9, "labels": false, "title": null}},
    "y": {"field": "y", "type": "quantitative", "axis": {"orient": "right", "values": [-0.0045, -0.0015, 0.0015, 0.0045], "tickSize": -9, "labels": false, "title": null}}}}
 ]
}
]
}
